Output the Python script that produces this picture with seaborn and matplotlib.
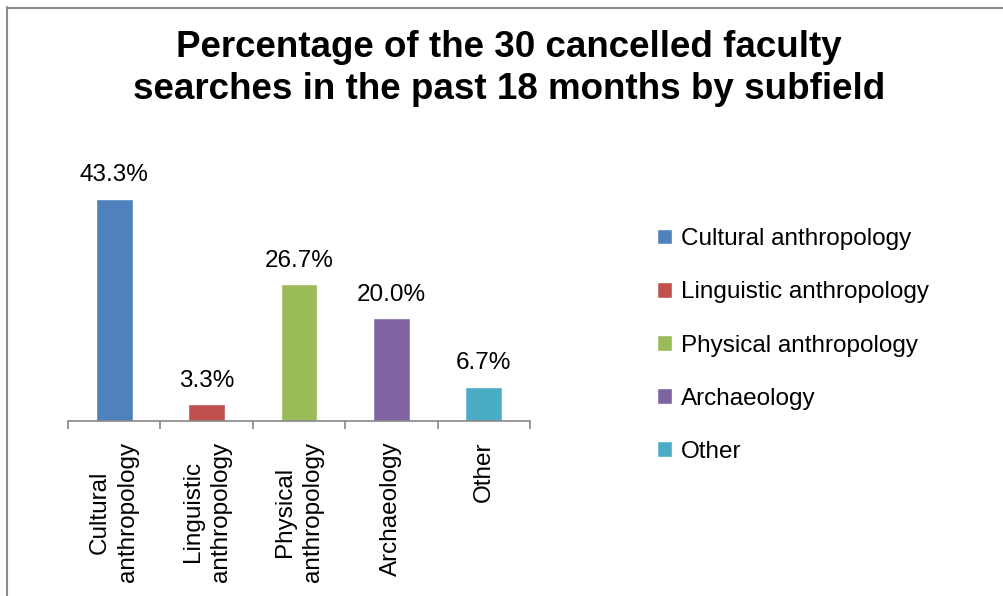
import matplotlib
matplotlib.use("Agg")
import matplotlib.pyplot as plt
from matplotlib.lines import Line2D
import pandas as pd
import seaborn as sns

# Chart data
subfields = ["Cultural anthropology", "Linguistic anthropology",
             "Physical anthropology", "Archaeology", "Other"]
tick_labels = ["Cultural\nanthropology", "Linguistic\nanthropology",
               "Physical\nanthropology", "Archaeology", "Other"]
percentages = [43.3, 3.3, 26.7, 20.0, 6.7]
colors = ["#4F81BD", "#C0504D", "#9BBB59", "#8064A2", "#4BACC6"]
title = "Percentage of the 30 cancelled faculty\nsearches in the past 18 months by subfield"

df = pd.DataFrame({"subfield": subfields, "pct": percentages})

sns.set_style("white")
plt.rcParams["font.family"] = ["Liberation Sans", "DejaVu Sans"]
plt.rcParams["text.color"] = "black"
plt.rcParams["xtick.color"] = "black"

fig = plt.figure(figsize=(10.04, 5.96), dpi=100)
ax = fig.add_axes([68 / 1004, 1 - 421 / 596, 462 / 1004, 256.5 / 596])

sns.barplot(data=df, x="subfield", y="pct", hue="subfield",
            palette=colors, width=0.4, saturation=1, legend=True, ax=ax)

# Data labels
for container in ax.containers:
    ax.bar_label(container, fmt="%.1f%%", padding=9, fontsize=17.5,
                 color="black")

ax.set_ylim(0, 50)
ax.set_xlim(-0.5, len(subfields) - 0.5)
ax.set_xlabel("")
ax.set_ylabel("")
ax.set_yticks([])

# Category labels, ticks between categories
ax.set_xticks(range(len(subfields)))
ax.set_xticklabels(tick_labels, rotation=90, fontsize=17.5,
                   multialignment="center", linespacing=1.35, color="black")
ax.tick_params(axis="x", which="major", length=0, pad=15)
ax.set_xticks([i - 0.5 for i in range(len(subfields) + 1)], minor=True)
ax.tick_params(axis="x", which="minor", bottom=True, length=6, width=1.2,
               color="#868686", direction="out")

for side in ["top", "right", "left"]:
    ax.spines[side].set_visible(False)
ax.spines["bottom"].set_color("#868686")
ax.spines["bottom"].set_linewidth(1.2)

# Legend
handles, labels = ax.get_legend_handles_labels()
leg = ax.legend(handles, labels, loc="center left",
                bbox_to_anchor=(657 / 1004, 1 - 345.5 / 596),
                bbox_transform=fig.transFigure, frameon=False, fontsize=17.5,
                handlelength=0.6, handleheight=0.6, handletextpad=0.4,
                labelspacing=1.28, borderpad=0, borderaxespad=0)
for t in leg.get_texts():
    t.set_color("black")

# Title
fig.text(509 / 1004, 1 - 68.5 / 596, title, ha="center", va="center",
         fontsize=26.5, fontweight="bold", linespacing=1.25, color="black")

# Chart border (top and left edges visible)
fig.add_artist(Line2D([7 / 1004, 1], [1 - 7.5 / 596] * 2,
                      transform=fig.transFigure, color="#8C8C8C", lw=1.5))
fig.add_artist(Line2D([7.5 / 1004] * 2, [0, 1 - 7 / 596],
                      transform=fig.transFigure, color="#8C8C8C", lw=1.5))

fig.savefig("out.png", dpi=100)
